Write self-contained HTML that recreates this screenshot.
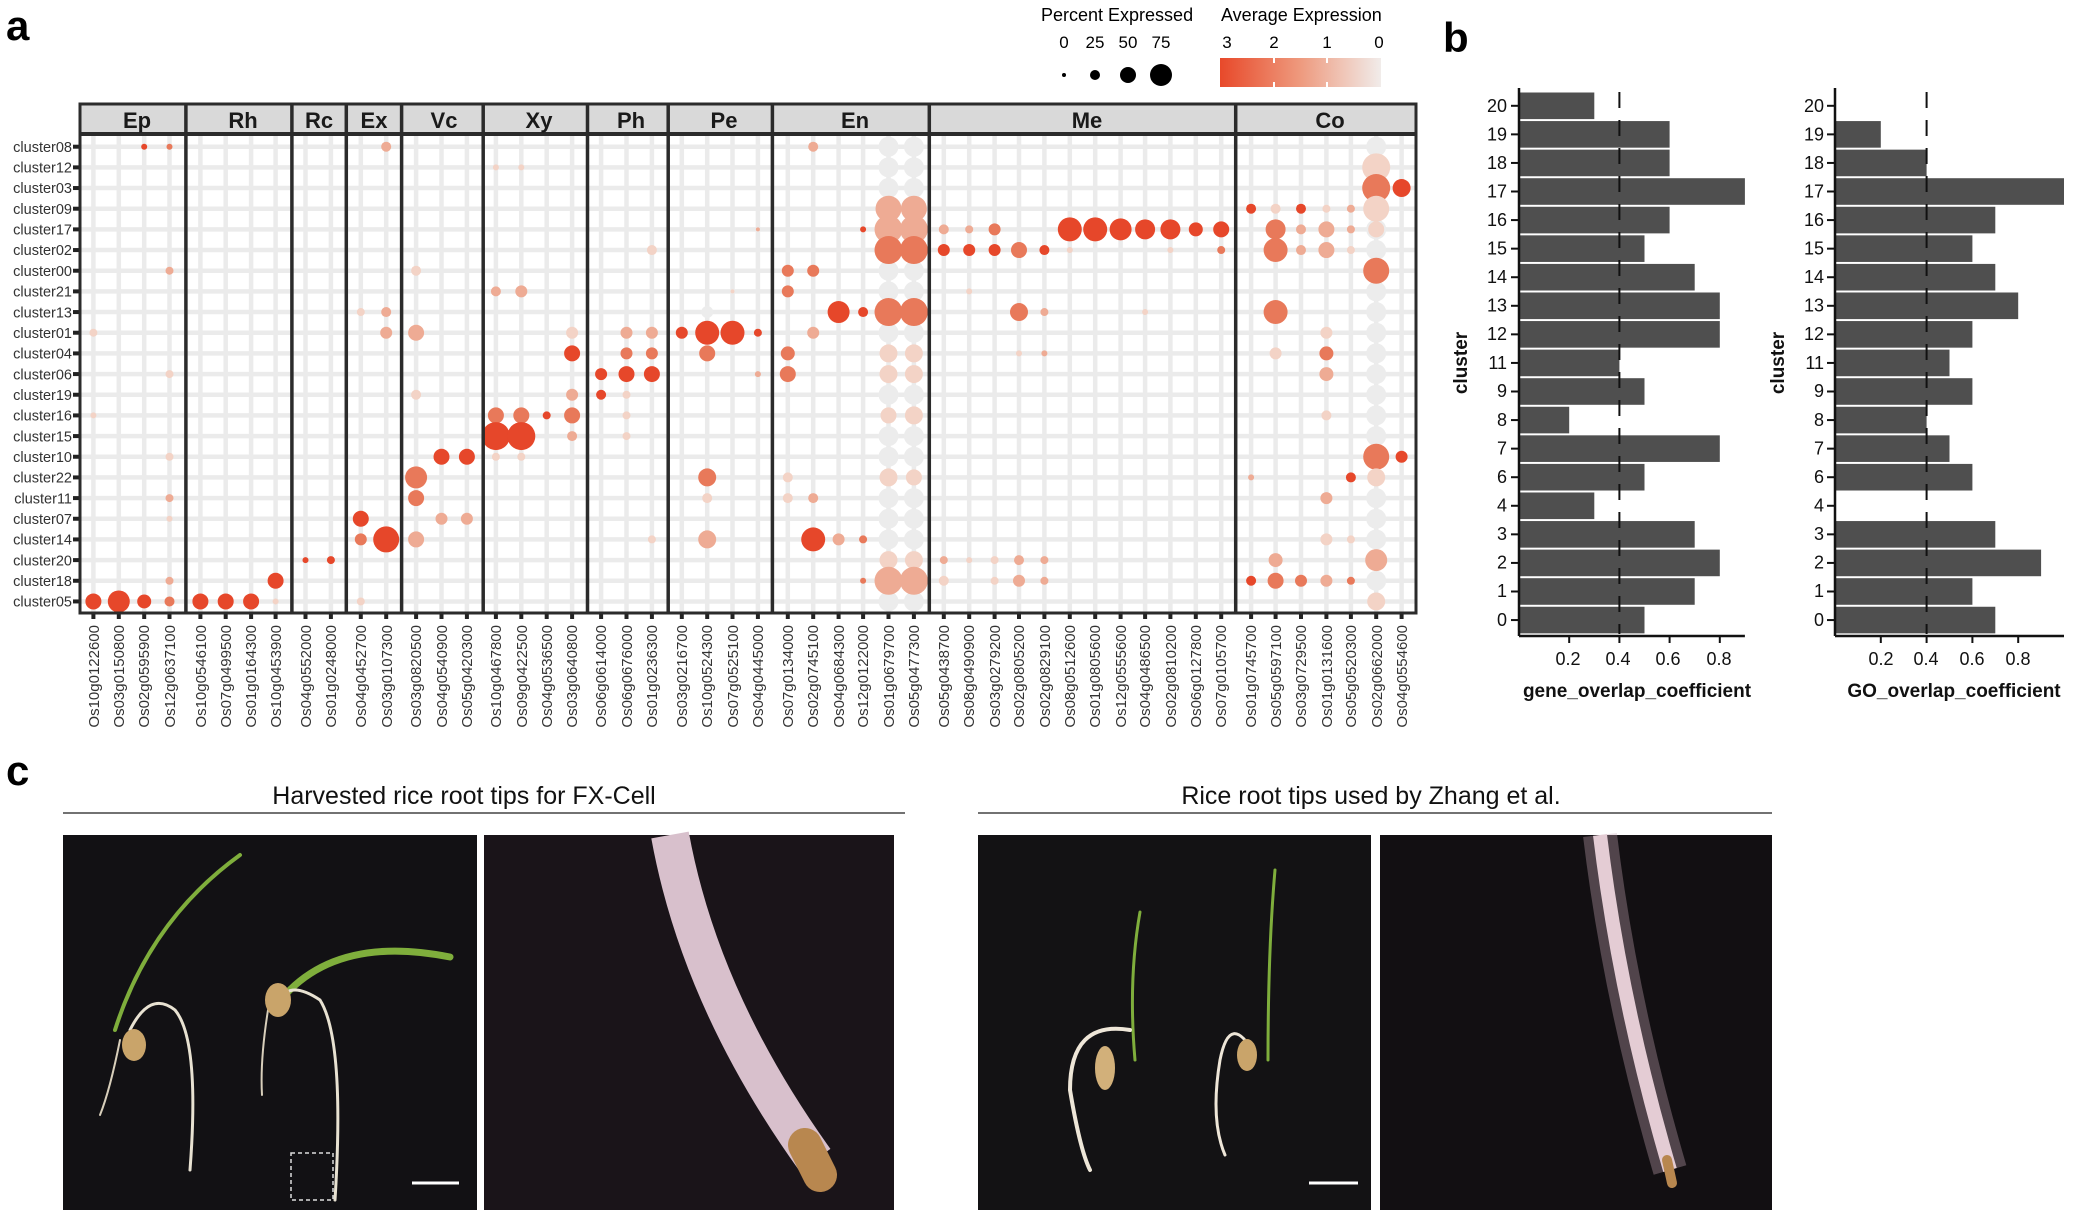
<!DOCTYPE html>
<html><head><meta charset="utf-8"><style>
html,body{margin:0;padding:0;background:#fff;}
svg{display:block;font-family:"Liberation Sans",sans-serif;}
</style></head><body>
<svg id="s" width="2073" height="1210" viewBox="0 0 2073 1210" xmlns="http://www.w3.org/2000/svg">
<rect width="2073" height="1210" fill="#fff"/>
<defs>
<linearGradient id="ge" x1="0" x2="1"><stop offset="0" stop-color="#e8492a"/><stop offset="0.5" stop-color="#ee9a7e"/><stop offset="1" stop-color="#f1ecea"/></linearGradient>
</defs>
<text x="6" y="40" font-size="42" font-weight="bold">a</text>
<text x="1443" y="52" font-size="42" font-weight="bold">b</text>
<text x="6" y="785" font-size="42" font-weight="bold">c</text>
<!-- legend -->
<text x="1041" y="21" font-size="18">Percent Expressed</text>
<text x="1064" y="48" font-size="17" text-anchor="middle">0</text>
<text x="1095" y="48" font-size="17" text-anchor="middle">25</text>
<text x="1128" y="48" font-size="17" text-anchor="middle">50</text>
<text x="1161" y="48" font-size="17" text-anchor="middle">75</text>
<circle cx="1064" cy="75" r="2" fill="#000"/><circle cx="1095" cy="75" r="5" fill="#000"/><circle cx="1128" cy="75" r="8" fill="#000"/><circle cx="1161" cy="75" r="11" fill="#000"/>
<text x="1221" y="21" font-size="18">Average Expression</text>
<text x="1227" y="48" font-size="17" text-anchor="middle">3</text>
<text x="1274" y="48" font-size="17" text-anchor="middle">2</text>
<text x="1327" y="48" font-size="17" text-anchor="middle">1</text>
<text x="1379" y="48" font-size="17" text-anchor="middle">0</text>
<rect x="1220" y="58" width="161" height="29" fill="url(#ge)"/>
<g stroke="#fff" stroke-width="2"><line x1="1274" y1="58" x2="1274" y2="63"/><line x1="1274" y1="82" x2="1274" y2="87"/><line x1="1327" y1="58" x2="1327" y2="63"/><line x1="1327" y1="82" x2="1327" y2="87"/></g>
<g id="plot"></g>
<!-- strip labels -->
<g font-size="22" font-weight="bold" text-anchor="middle" fill="#1a1a1a">
<text x="137" y="128">Ep</text><text x="243" y="128">Rh</text><text x="319" y="128">Rc</text><text x="374" y="128">Ex</text><text x="444" y="128">Vc</text><text x="539" y="128">Xy</text><text x="631" y="128">Ph</text><text x="724" y="128">Pe</text><text x="855" y="128">En</text><text x="1087" y="128">Me</text><text x="1330" y="128">Co</text>
</g>
<g font-size="14.5" fill="#333" text-anchor="end">
<text x="72" y="152">cluster08</text><text x="72" y="172.5">cluster12</text><text x="72" y="193.2">cluster03</text><text x="72" y="213.9">cluster09</text><text x="72" y="234.6">cluster17</text><text x="72" y="255.2">cluster02</text><text x="72" y="275.9">cluster00</text><text x="72" y="296.6">cluster21</text><text x="72" y="317.3">cluster13</text><text x="72" y="337.9">cluster01</text><text x="72" y="358.6">cluster04</text><text x="72" y="379.3">cluster06</text><text x="72" y="400">cluster19</text><text x="72" y="420.6">cluster16</text><text x="72" y="441.3">cluster15</text><text x="72" y="462">cluster10</text><text x="72" y="482.7">cluster22</text><text x="72" y="503.3">cluster11</text><text x="72" y="524">cluster07</text><text x="72" y="544.7">cluster14</text><text x="72" y="565.4">cluster20</text><text x="72" y="586">cluster18</text><text x="72" y="606.7">cluster05</text>
</g>
<g font-size="15" fill="#333" text-anchor="end">
<text transform="translate(99,625) rotate(-90)">Os10g0122600</text>
<text transform="translate(124,625) rotate(-90)">Os03g0150800</text>
<text transform="translate(149,625) rotate(-90)">Os02g0595900</text>
<text transform="translate(175,625) rotate(-90)">Os12g0637100</text>
<text transform="translate(206,625) rotate(-90)">Os10g0546100</text>
<text transform="translate(231,625) rotate(-90)">Os07g0499500</text>
<text transform="translate(256,625) rotate(-90)">Os01g0164300</text>
<text transform="translate(281,625) rotate(-90)">Os10g0453900</text>
<text transform="translate(311,625) rotate(-90)">Os04g0552000</text>
<text transform="translate(336,625) rotate(-90)">Os01g0248000</text>
<text transform="translate(366,625) rotate(-90)">Os04g0452700</text>
<text transform="translate(392,625) rotate(-90)">Os03g0107300</text>
<text transform="translate(421,625) rotate(-90)">Os03g0820500</text>
<text transform="translate(447,625) rotate(-90)">Os04g0540900</text>
<text transform="translate(472,625) rotate(-90)">Os05g0420300</text>
<text transform="translate(501,625) rotate(-90)">Os10g0467800</text>
<text transform="translate(527,625) rotate(-90)">Os09g0422500</text>
<text transform="translate(552,625) rotate(-90)">Os04g0536500</text>
<text transform="translate(577,625) rotate(-90)">Os03g0640800</text>
<text transform="translate(606,625) rotate(-90)">Os06g0614000</text>
<text transform="translate(632,625) rotate(-90)">Os06g0676000</text>
<text transform="translate(657,625) rotate(-90)">Os01g0236300</text>
<text transform="translate(687,625) rotate(-90)">Os03g0216700</text>
<text transform="translate(712,625) rotate(-90)">Os10g0524300</text>
<text transform="translate(738,625) rotate(-90)">Os07g0525100</text>
<text transform="translate(763,625) rotate(-90)">Os04g0445000</text>
<text transform="translate(793,625) rotate(-90)">Os07g0134000</text>
<text transform="translate(818,625) rotate(-90)">Os02g0745100</text>
<text transform="translate(844,625) rotate(-90)">Os04g0684300</text>
<text transform="translate(868,625) rotate(-90)">Os12g0122000</text>
<text transform="translate(894,625) rotate(-90)">Os01g0679700</text>
<text transform="translate(919,625) rotate(-90)">Os05g0477300</text>
<text transform="translate(949,625) rotate(-90)">Os05g0438700</text>
<text transform="translate(974,625) rotate(-90)">Os08g0490900</text>
<text transform="translate(1000,625) rotate(-90)">Os03g0279200</text>
<text transform="translate(1024,625) rotate(-90)">Os02g0805200</text>
<text transform="translate(1050,625) rotate(-90)">Os02g0829100</text>
<text transform="translate(1075,625) rotate(-90)">Os08g0512600</text>
<text transform="translate(1100,625) rotate(-90)">Os01g0805600</text>
<text transform="translate(1126,625) rotate(-90)">Os12g0555600</text>
<text transform="translate(1150,625) rotate(-90)">Os04g0486500</text>
<text transform="translate(1176,625) rotate(-90)">Os02g0810200</text>
<text transform="translate(1201,625) rotate(-90)">Os06g0127800</text>
<text transform="translate(1226,625) rotate(-90)">Os07g0105700</text>
<text transform="translate(1256,625) rotate(-90)">Os01g0745700</text>
<text transform="translate(1281,625) rotate(-90)">Os05g0597100</text>
<text transform="translate(1306,625) rotate(-90)">Os03g0729500</text>
<text transform="translate(1332,625) rotate(-90)">Os01g0131600</text>
<text transform="translate(1356,625) rotate(-90)">Os05g0520300</text>
<text transform="translate(1382,625) rotate(-90)">Os02g0662000</text>
<text transform="translate(1407,625) rotate(-90)">Os04g0554600</text>
</g>
<!-- panel b -->
<g id="bars"></g>
<g font-size="18" fill="#111" text-anchor="end" id="blabels">
<text x="1507" y="112">20</text><text x="1507" y="140.5">19</text><text x="1507" y="169">18</text><text x="1507" y="197.5">17</text><text x="1507" y="226">16</text><text x="1507" y="254.6">15</text><text x="1507" y="283">14</text><text x="1507" y="311.7">13</text><text x="1507" y="340">12</text><text x="1507" y="368.8">11</text><text x="1507" y="397">9</text><text x="1507" y="425.9">8</text><text x="1507" y="454.4">7</text><text x="1507" y="483">6</text><text x="1507" y="511.5">4</text><text x="1507" y="540">3</text><text x="1507" y="568.6">2</text><text x="1507" y="597">1</text><text x="1507" y="626">0</text>
<text x="1824" y="112">20</text><text x="1824" y="140.5">19</text><text x="1824" y="169">18</text><text x="1824" y="197.5">17</text><text x="1824" y="226">16</text><text x="1824" y="254.6">15</text><text x="1824" y="283">14</text><text x="1824" y="311.7">13</text><text x="1824" y="340">12</text><text x="1824" y="368.8">11</text><text x="1824" y="397">9</text><text x="1824" y="425.9">8</text><text x="1824" y="454.4">7</text><text x="1824" y="483">6</text><text x="1824" y="511.5">4</text><text x="1824" y="540">3</text><text x="1824" y="568.6">2</text><text x="1824" y="597">1</text><text x="1824" y="626">0</text>
</g>
<g font-size="18" fill="#111" text-anchor="middle">
<text x="1568" y="665">0.2</text><text x="1618" y="665">0.4</text><text x="1668" y="665">0.6</text><text x="1719" y="665">0.8</text>
<text x="1881" y="665">0.2</text><text x="1926" y="665">0.4</text><text x="1972" y="665">0.6</text><text x="2018" y="665">0.8</text>
<text x="1637" y="697" font-weight="bold" font-size="19">gene_overlap_coefficient</text>
<text x="1954" y="697" font-weight="bold" font-size="19">GO_overlap_coefficient</text>
<text transform="translate(1467,363) rotate(-90)" font-weight="bold" font-size="19">cluster</text>
<text transform="translate(1784,363) rotate(-90)" font-weight="bold" font-size="19">cluster</text>
</g>
<!-- panel c -->
<g font-size="25" fill="#111" text-anchor="middle">
<text x="464" y="804">Harvested rice root tips for FX-Cell</text>
<text x="1371" y="804">Rice root tips used by Zhang et al.</text>
</g>
<line x1="63" y1="813" x2="905" y2="813" stroke="#444" stroke-width="1.5"/>
<line x1="978" y1="813" x2="1772" y2="813" stroke="#444" stroke-width="1.5"/>
<rect x="63" y="835" width="414" height="375" fill="#121114"/>
<rect x="484" y="835" width="410" height="375" fill="#1a1419"/>
<rect x="978" y="835" width="393" height="375" fill="#131214"/>
<rect x="1380" y="835" width="392" height="375" fill="#120f12"/>
<g fill="none" stroke-linecap="round">
<path d="M115 1030 Q150 920 240 855" stroke="#7fae3c" stroke-width="4"/>
<path d="M285 995 Q340 935 450 957" stroke="#7fae3c" stroke-width="7"/>
<path d="M130 1030 Q150 990 175 1010 Q200 1040 190 1170" stroke="#e8e2d2" stroke-width="3"/>
<path d="M120 1040 Q110 1090 100 1115" stroke="#d8cfbb" stroke-width="2"/>
<path d="M280 1000 Q290 980 320 1000 Q345 1040 335 1200" stroke="#e8e2d2" stroke-width="3"/>
<path d="M268 1010 Q260 1060 262 1095" stroke="#d8cfbb" stroke-width="2"/>
<path d="M670 835 Q700 1000 815 1160" stroke="#d8c0cc" stroke-width="38" stroke-linecap="butt"/>
<path d="M805 1145 L820 1175" stroke="#b8874f" stroke-width="34"/>
<path d="M1140 912 Q1128 980 1135 1060" stroke="#7fae3c" stroke-width="3"/>
<path d="M1275 870 Q1268 950 1268 1060" stroke="#7fae3c" stroke-width="3"/>
<path d="M1130 1030 Q1070 1020 1070 1090 Q1080 1150 1090 1170" stroke="#eee6d8" stroke-width="4"/>
<path d="M1255 1055 Q1230 1010 1220 1060 Q1210 1120 1225 1155" stroke="#eee6d8" stroke-width="3"/>
<path d="M1600 835 Q1620 1000 1670 1170" stroke="#c8a8b8" stroke-width="34" stroke-opacity="0.35" stroke-linecap="butt"/>
<path d="M1600 835 Q1620 1000 1670 1170" stroke="#e4ccd4" stroke-width="14" stroke-linecap="butt"/>
<path d="M1667 1160 L1672 1183" stroke="#b8874f" stroke-width="10"/>
</g>
<ellipse cx="134" cy="1045" rx="12" ry="16" fill="#c9a46a"/>
<ellipse cx="278" cy="1000" rx="13" ry="17" fill="#c9a46a"/>
<ellipse cx="1105" cy="1068" rx="10" ry="22" fill="#d2b07a"/>
<ellipse cx="1247" cy="1055" rx="10" ry="16" fill="#c9a46a"/>
<rect x="291" y="1153" width="42" height="47" fill="none" stroke="#ddd" stroke-width="1.5" stroke-dasharray="4 3"/>
<line x1="412" y1="1183" x2="459" y2="1183" stroke="#fff" stroke-width="3"/>
<line x1="1309" y1="1183" x2="1358" y2="1183" stroke="#fff" stroke-width="3"/>
</svg>
<script>
(function(){
var NS="http://www.w3.org/2000/svg";
function el(p,t,a){var e=document.createElementNS(NS,t);for(var k in a)e.setAttribute(k,a[k]);p.appendChild(e);return e;}
var g=document.getElementById("plot");
var cols=[93.4,118.8,144.2,169.5,200.4,225.7,251.1,275.6,305.5,330.9,360.8,386.2,416.1,441.5,466.9,495.9,521.3,546.7,572.1,601.1,626.5,651.9,681.8,707.2,732.5,757.9,787.8,813.2,838.6,863.1,888.5,913.9,943.8,969.2,994.6,1019,1044.4,1069.8,1095.2,1120.6,1145.1,1170.4,1195.8,1221.2,1251.1,1275.6,1301,1326.4,1350.9,1376.2,1401.6];
var borders=[79.8,185.9,291.9,346.3,401.6,483.2,587.5,668.2,772.4,929.3,1235.7,1416.1];
function ry(i){return 146.7+i*20.67;}
var T=134,B=613;
el(g,"rect",{x:80,y:T,width:1336,height:B-T,fill:"#fff"});
for(var i=0;i<23;i++)el(g,"line",{x1:80,x2:1416,y1:ry(i),y2:ry(i),stroke:"#ebebeb","stroke-width":4.5});
cols.forEach(function(x){el(g,"line",{x1:x,x2:x,y1:T,y2:B,stroke:"#ebebeb","stroke-width":4.5});
 el(g,"rect",{x:x-2,y:B,width:4,height:6,fill:"#222"});});
for(var i=0;i<23;i++)el(g,"rect",{x:73,y:ry(i)-2,width:7,height:4,fill:"#222"});
var C={3:"#e6472a",2:"#e8795a",1:"#eeab94",0.5:"#f3d3c6",0:"#ececec"};
var grey=[[30,[0,1,2,3,6,7,9,12,14,15,17,18,19,22]],[31,[0,1,2,3,6,7,9,12,14,15,17,18,19,22]],[49,[0,4,5,7,8,9,10,11,12,13,14,17,18,19,21]]];
grey.forEach(function(q){q[1].forEach(function(r){el(g,"circle",{cx:cols[q[0]],cy:ry(r),r:10,fill:"#ececec"});});});
var D=[[0,2,3,3],[0,3,3,2],[0,11,5,1],[0,27,5,1],
[1,15,3,.5],[1,16,3,.5],[1,49,14,.5],
[2,49,14,2],[2,50,9,3],
[3,30,13,1],[3,31,13,1],[3,44,5,3],[3,45,5,.5],[3,46,5,3],[3,47,4,.5],[3,48,4,1],[3,49,13,.5],
[4,29,3,3],[4,30,14,1],[4,31,14,1],[4,32,5,1],[4,33,4,1],[4,34,6,2],[4,37,12,3],[4,38,12,3],[4,39,11,3],[4,40,10,3],[4,41,10,3],[4,42,7,3],[4,43,8,3],[4,25,2,1],[4,45,10,2],[4,46,5,1],[4,47,8,1],[4,48,4,1],[4,49,8,.5],
[5,21,5,.5],[5,30,14,2],[5,31,14,2],[5,32,6,3],[5,33,6,3],[5,34,6,3],[5,35,8,2],[5,36,5,3],[5,37,3,.5],[5,41,3,.5],[5,43,4,2],[5,45,12,2],[5,46,5,1],[5,47,8,1],[5,48,4,.5],
[6,3,4,1],[6,12,5,.5],[6,26,6,2],[6,27,6,2],[6,49,13,2],
[7,15,5,1],[7,16,6,1],[7,26,6,2],[7,33,3,.5],[7,24,2,.5],
[8,10,4,.5],[8,11,5,1],[8,28,11,3],[8,29,5,3],[8,30,14,2],[8,31,14,2],[8,35,9,2],[8,36,4,1],[8,40,3,.5],[8,45,12,2],[8,23,6,0],
[9,0,4,.5],[9,11,6,1],[9,12,8,1],[9,18,6,.5],[9,20,6,1],[9,21,6,1],[9,22,6,3],[9,23,12,3],[9,24,12,3],[9,25,4,3],[9,27,6,1],[9,47,6,.5],
[10,18,8,3],[10,20,6,2],[10,21,6,2],[10,23,8,2],[10,26,7,2],[10,30,9,.5],[10,31,9,.5],[10,35,3,.5],[10,36,3,1],[10,45,6,.5],[10,47,7,2],
[11,3,4,.5],[11,19,6,3],[11,20,8,3],[11,21,8,3],[11,25,3,1],[11,26,8,2],[11,30,9,.5],[11,31,9,.5],[11,47,7,1],
[12,12,5,.5],[12,18,6,1],[12,19,5,3],[12,20,4,.5],
[13,0,3,.5],[13,15,8,2],[13,16,8,2],[13,17,4,3],[13,18,8,2],[13,20,4,.5],[13,30,8,.5],[13,31,9,.5],[13,47,5,.5],
[14,15,14,3],[14,16,14,3],[14,18,5,1],[14,20,4,.5],
[15,3,4,.5],[15,13,8,3],[15,14,8,3],[15,15,4,.5],[15,16,4,.5],[15,49,13,2],[15,50,6,3],
[16,12,11,2],[16,23,9,2],[16,26,5,.5],[16,30,9,.5],[16,31,8,.5],[16,44,3,1],[16,48,5,3],[16,49,9,.5],
[17,3,4,1],[17,12,8,2],[17,23,5,.5],[17,26,5,.5],[17,27,5,1],[17,47,6,1],
[18,3,3,.5],[18,10,8,3],[18,13,6,1],[18,14,6,1],
[19,10,6,2],[19,11,13,3],[19,12,8,1],[19,21,4,.5],[19,23,9,1],[19,27,12,3],[19,28,6,1],[19,29,4,2],[19,47,6,.5],[19,48,4,.5],
[20,8,3,3],[20,9,4,3],[20,30,9,.5],[20,31,9,.5],[20,32,4,1],[20,33,3,.5],[20,34,4,.5],[20,35,5,1],[20,36,4,1],[20,45,7,1],[20,49,11,1],
[21,3,4,1],[21,7,8,3],[21,29,3,2],[21,30,14,1],[21,31,14,1],[21,32,5,.5],[21,34,4,.5],[21,35,6,1],[21,36,4,1],[21,44,5,3],[21,45,8,2],[21,46,6,2],[21,47,6,1],[21,48,4,2],
[22,0,8,3],[22,1,11,3],[22,2,7,3],[22,3,5,2],[22,4,8,3],[22,5,8,3],[22,6,8,3],[22,7,3,.5],[22,10,4,.5],[22,49,9,.5]];
D.forEach(function(d){el(g,"circle",{cx:cols[d[1]],cy:ry(d[0]),r:d[2],fill:C[d[3]]});});
for(var k=0;k<borders.length-1;k++){
 el(g,"rect",{x:borders[k],y:104,width:borders[k+1]-borders[k],height:30,fill:"#d9d9d9"});
}
el(g,"rect",{x:80,y:104,width:1336,height:509,fill:"none",stroke:"#2b2b2b","stroke-width":3});
el(g,"line",{x1:80,x2:1416,y1:134,y2:134,stroke:"#2b2b2b","stroke-width":4});
for(var k=1;k<borders.length-1;k++)el(g,"line",{x1:borders[k],x2:borders[k],y1:104,y2:613,stroke:"#2b2b2b","stroke-width":3.5});
var b=document.getElementById("bars");
var gene=[0.3,0.6,0.6,0.9,0.6,0.5,0.7,0.8,0.8,0.4,0.5,0.2,0.8,0.5,0.3,0.7,0.8,0.7,0.5];
var go=[0,0.2,0.4,1.0,0.7,0.6,0.7,0.8,0.6,0.5,0.6,0.4,0.5,0.6,0,0.7,0.9,0.6,0.7];
function chart(x0,unit,vals,xmax){
 for(var i=0;i<19;i++){var y=105.8+i*28.57;
  if(vals[i]>0)el(b,"rect",{x:x0,y:y-13.3,width:vals[i]*unit,height:26.6,fill:"#4f4f4f"});
  el(b,"line",{x1:x0-8,x2:x0,y1:y,y2:y,stroke:"#111","stroke-width":2});}
 el(b,"line",{x1:x0+0.4*unit,x2:x0+0.4*unit,y1:92,y2:634,stroke:"#111","stroke-width":2,"stroke-dasharray":"16 12"});
 el(b,"line",{x1:x0,x2:x0,y1:88,y2:636,stroke:"#111","stroke-width":2.5});
 el(b,"line",{x1:x0,x2:x0+xmax*unit,y1:636,y2:636,stroke:"#111","stroke-width":2.5});
 for(var t=1;t<=4;t++){var xx=x0+t*0.2*unit;el(b,"line",{x1:xx,x2:xx,y1:636,y2:643,stroke:"#111","stroke-width":2});}
}
chart(1519,251,gene,0.9);
chart(1835,229,go,1.0);
})();
</script>
</body></html>
